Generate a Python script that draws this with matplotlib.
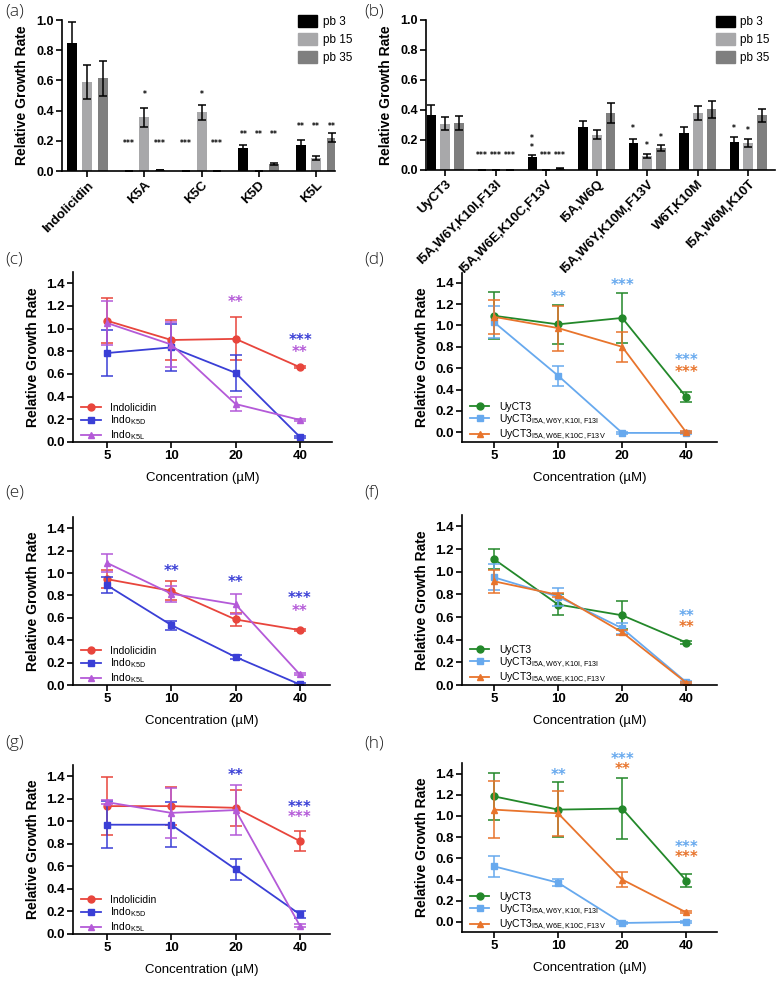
import matplotlib
matplotlib.use("Agg")
import matplotlib.pyplot as plt
from matplotlib.patches import Patch

W, H = 777, 985
plt.rcParams["font.family"] = ["Liberation Sans", "DejaVu Sans"]
plt.rcParams["mathtext.default"] = "regular"

# ---------------- bar panels (a) and (b) ----------------
passages = ["pb 3", "pb 15", "pb 35"]
bar_colors = ["#000000", "#a8a8aa", "#7f7f7f"]

a_groups = ["Indolicidin", "K5A", "K5C", "K5D", "K5L"]
a_pb3 = [0.85, 0.0, 0.0, 0.155, 0.175]
a_pb15 = [0.59, 0.355, 0.39, 0.002, 0.085]
a_pb35 = [0.615, 0.005, 0.003, 0.045, 0.22]
a_pb3_err = [0.14, 0.0, 0.0, 0.02, 0.03]
a_pb15_err = [0.115, 0.065, 0.05, 0.0, 0.015]
a_pb35_err = [0.115, 0.0, 0.0, 0.005, 0.03]
# (group index, bar index, text, y)
a_stars = [(1, 0, "***", 0.19), (1, 1, "*", 0.51), (1, 2, "***", 0.19),
           (2, 0, "***", 0.19), (2, 1, "*", 0.51), (2, 2, "***", 0.19),
           (3, 0, "**", 0.25), (3, 1, "**", 0.25), (3, 2, "**", 0.25),
           (4, 0, "**", 0.30), (4, 1, "**", 0.30), (4, 2, "**", 0.30)]

b_groups = ["UyCT3", "I5A,W6Y,K10I,F13I", "I5A,W6E,K10C,F13V", "I5A,W6Q",
            "I5A,W6Y,K10M,F13V", "W6T,K10M", "I5A,W6M,K10T"]
b_pb3 = [0.365, 0.0, 0.085, 0.29, 0.18, 0.245, 0.19]
b_pb15 = [0.31, 0.0, 0.003, 0.235, 0.095, 0.38, 0.18]
b_pb35 = [0.315, 0.0, 0.01, 0.38, 0.15, 0.405, 0.365]
b_pb3_err = [0.07, 0.0, 0.012, 0.04, 0.03, 0.045, 0.03]
b_pb15_err = [0.045, 0.0, 0.0, 0.03, 0.012, 0.045, 0.025]
b_pb35_err = [0.045, 0.0, 0.003, 0.065, 0.02, 0.055, 0.045]
b_stars = [(1, 0, "***", 0.105), (1, 1, "***", 0.105), (1, 2, "***", 0.105),
           (2, 0, "*", 0.22), (2, 0, "*", 0.155),
           (2, 1, "***", 0.105), (2, 2, "***", 0.105),
           (4, 0, "*", 0.28), (4, 1, "*", 0.17), (4, 2, "*", 0.225),
           (6, 0, "*", 0.285), (6, 1, "*", 0.27)]

# ---------------- line panels (c)-(h) ----------------
conc = ["5", "10", "20", "40"]
red, blue, purple = "#e8453c", "#3a3fd6", "#b45ad8"
green, lblue, orange = "#23882a", "#67a9ee", "#e8742c"

indo_labels = ["Indolicidin", r"Indo$_\mathregular{K5D}$", r"Indo$_\mathregular{K5L}$"]
uy_labels = ["UyCT3", r"UyCT3$_\mathregular{I5A,W6Y,K10I,F13I}$",
             r"UyCT3$_\mathregular{I5A,W6E,K10C,F13V}$"]

c_indo = [1.07, 0.90, 0.91, 0.66]
c_indo_err = [0.20, 0.175, 0.19, 0.01]
c_k5d = [0.785, 0.835, 0.61, 0.045]
c_k5d_err = [0.20, 0.21, 0.16, 0.01]
c_k5l = [1.05, 0.86, 0.335, 0.195]
c_k5l_err = [0.19, 0.20, 0.06, 0.01]
c_stars = [(2, 1.24, "**", purple), (3, 0.91, "***", blue), (3, 0.80, "**", purple)]

d_uy = [1.09, 1.01, 1.07, 0.33]
d_uy_err = [0.22, 0.18, 0.235, 0.05]
d_m1 = [1.03, 0.53, -0.005, -0.005]
d_m1_err = [0.15, 0.095, 0.01, 0.01]
d_m2 = [1.08, 0.975, 0.80, 0.0]
d_m2_err = [0.16, 0.21, 0.14, 0.01]
d_stars = [(1, 1.275, "**", lblue), (2, 1.385, "***", lblue),
           (3, 0.686, "***", lblue), (3, 0.576, "***", orange)]

e_indo = [0.945, 0.84, 0.585, 0.49]
e_indo_err = [0.08, 0.085, 0.06, 0.01]
e_k5d = [0.89, 0.535, 0.25, 0.005]
e_k5d_err = [0.07, 0.04, 0.015, 0.01]
e_k5l = [1.09, 0.815, 0.72, 0.095]
e_k5l_err = [0.08, 0.07, 0.09, 0.01]
e_stars = [(1, 1.03, "**", blue), (2, 0.926, "**", blue),
           (3, 0.79, "***", blue), (3, 0.67, "**", purple)]

f_uy = [1.11, 0.71, 0.615, 0.375]
f_uy_err = [0.09, 0.09, 0.125, 0.01]
f_m1 = [0.95, 0.78, 0.50, 0.025]
f_m1_err = [0.115, 0.08, 0.05, 0.01]
f_m2 = [0.915, 0.795, 0.465, 0.02]
f_m2_err = [0.10, 0.02, 0.02, 0.01]
f_stars = [(3, 0.62, "**", lblue), (3, 0.52, "**", orange)]

g_indo = [1.135, 1.135, 1.12, 0.825]
g_indo_err = [0.26, 0.17, 0.16, 0.085]
g_k5d = [0.97, 0.97, 0.575, 0.175]
g_k5d_err = [0.21, 0.20, 0.095, 0.03]
g_k5l = [1.17, 1.075, 1.10, 0.075]
g_k5l_err = [0.02, 0.22, 0.225, 0.01]
g_stars = [(2, 1.42, "**", blue), (3, 1.14, "***", blue), (3, 1.045, "***", purple)]

h_uy = [1.185, 1.06, 1.07, 0.39]
h_uy_err = [0.22, 0.26, 0.29, 0.065]
h_m1 = [0.525, 0.37, -0.01, 0.0]
h_m1_err = [0.10, 0.035, 0.01, 0.01]
h_m2 = [1.06, 1.025, 0.40, 0.09]
h_m2_err = [0.27, 0.215, 0.07, 0.01]
h_stars = [(1, 1.40, "**", lblue), (2, 1.55, "***", lblue), (2, 1.45, "**", orange),
           (3, 0.714, "***", lblue), (3, 0.62, "***", orange)]


def rect(l, t, r, b):
    return [l / W, 1 - b / H, (r - l) / W, (b - t) / H]


def star_text(s):
    # mathtext gives a box tight to the glyphs, so stacked stars do not collide
    return r"$\mathbf{" + "".join("{*}" for _ in s) + "}$"


def style_axes(ax, labelsize):
    for s in ("top", "right"):
        ax.spines[s].set_visible(False)
    for s in ("left", "bottom"):
        ax.spines[s].set_linewidth(1.2)
    ax.tick_params(width=1.2, length=4, labelsize=labelsize, pad=2)
    for lbl in ax.get_xticklabels() + ax.get_yticklabels():
        lbl.set_fontweight("bold")


def bar_panel(fig, r, groups, means, errs, stars, xlim, width, step, leg_x):
    ax = fig.add_axes(rect(*r))
    xs = list(range(len(groups)))
    for k, (m, e) in enumerate(zip(means, errs)):
        pos = [x + (k - 1) * step for x in xs]
        ax.bar(pos, m, width=width, color=bar_colors[k], label=passages[k])
        ax.errorbar(pos, m, yerr=e, fmt="none", ecolor="black",
                    elinewidth=1.1, capsize=3, capthick=1.1)
    for g, k, s, y in stars:
        ax.text(g + (k - 1) * step, y, star_text(s), ha="center", va="center",
                fontsize=5.5)
    ax.set_xlim(*xlim)
    ax.set_ylim(0, 1.0)
    ax.set_yticks([0, 0.2, 0.4, 0.6, 0.8, 1.0],
                  ["0.0", "0.2", "0.4", "0.6", "0.8", "1.0"])
    ax.set_xticks(xs, groups, rotation=45, ha="right", rotation_mode="anchor")
    style_axes(ax, 9)
    for lbl in ax.get_xticklabels():
        lbl.set_fontsize(9.5)
    ax.set_ylabel("Relative Growth Rate", fontsize=10, fontweight="bold", labelpad=5)
    handles = [Patch(color=c) for c in bar_colors]
    ax.legend(handles, passages, loc="upper left", bbox_to_anchor=(leg_x, 1.03),
              frameon=False, fontsize=8.5, handlelength=1.6, handleheight=1.1,
              handletextpad=0.5, labelspacing=0.45, borderaxespad=0, borderpad=0)
    return ax


def line_panel(fig, r, series, labels, colors, stars, ylim, xlim):
    ax = fig.add_axes(rect(*r))
    xs = list(range(len(conc)))
    markers = ["o", "s", "^"]
    for (m, e), lab, c, mk in zip(series, labels, colors, markers):
        ax.errorbar(xs, m, yerr=e, fmt="none", ecolor=c, elinewidth=1.1,
                    capsize=4, capthick=1.1)
        ax.plot(xs, m, color=c, marker=mk, ms=5, lw=1.3, label=lab)
    for x, y, s, c in stars:
        ax.text(x, y, star_text(s), ha="center", va="center", fontsize=10.5,
                color=c, clip_on=False)
    ax.set_xlim(*xlim)
    ax.set_ylim(*ylim)
    ax.set_yticks([0, 0.2, 0.4, 0.6, 0.8, 1.0, 1.2, 1.4],
                  ["0.0", "0.2", "0.4", "0.6", "0.8", "1.0", "1.2", "1.4"])
    ax.set_xticks(xs, conc)
    style_axes(ax, 9.5)
    ax.set_ylabel("Relative Growth Rate", fontsize=10, fontweight="bold", labelpad=4)
    ax.set_xlabel("Concentration (\u00b5M)", fontsize=9.5, labelpad=7)
    ax.legend(loc="lower left", bbox_to_anchor=(0.03, 0.0), frameon=False,
              fontsize=7.5, handlelength=1.9, handletextpad=0.9, labelspacing=0.08,
              borderaxespad=0, borderpad=0)
    return ax


fig = plt.figure(figsize=(W / 100, H / 100), dpi=100)

bar_panel(fig, (62, 20, 335, 171), a_groups, [a_pb3, a_pb15, a_pb35],
          [a_pb3_err, a_pb15_err, a_pb35_err], a_stars, (-0.44, 4.33), 0.175, 0.27, 0.865)
bar_panel(fig, (426, 20, 775, 170), b_groups, [b_pb3, b_pb15, b_pb35],
          [b_pb3_err, b_pb15_err, b_pb35_err], b_stars, (-0.38, 6.53), 0.19, 0.275, 0.83)

indo_colors = [red, blue, purple]
uy_colors = [green, lblue, orange]
line_panel(fig, (73, 272, 332, 442), [(c_indo, c_indo_err), (c_k5d, c_k5d_err), (c_k5l, c_k5l_err)],
           indo_labels, indo_colors, c_stars, (0, 1.5), (-0.53, 3.5))
line_panel(fig, (462, 273, 717, 442), [(d_uy, d_uy_err), (d_m1, d_m1_err), (d_m2, d_m2_err)],
           uy_labels, uy_colors, d_stars, (-0.09, 1.49), (-0.5, 3.48))
line_panel(fig, (73, 517, 330, 685), [(e_indo, e_indo_err), (e_k5d, e_k5d_err), (e_k5l, e_k5l_err)],
           indo_labels, indo_colors, e_stars, (0, 1.5), (-0.53, 3.47))
line_panel(fig, (462, 515, 717, 685), [(f_uy, f_uy_err), (f_m1, f_m1_err), (f_m2, f_m2_err)],
           uy_labels, uy_colors, f_stars, (0, 1.5), (-0.5, 3.48))
line_panel(fig, (73, 765, 330, 934), [(g_indo, g_indo_err), (g_k5d, g_k5d_err), (g_k5l, g_k5l_err)],
           indo_labels, indo_colors, g_stars, (0, 1.5), (-0.53, 3.47))
line_panel(fig, (462, 763, 717, 932), [(h_uy, h_uy_err), (h_m1, h_m1_err), (h_m2, h_m2_err)],
           uy_labels, uy_colors, h_stars, (-0.095, 1.5), (-0.5, 3.48))

letters = [("(a)", 5, 12), ("(b)", 364, 12), ("(c)", 5, 259), ("(d)", 364, 259),
           ("(e)", 5, 492), ("(f)", 364, 492), ("(g)", 5, 743), ("(h)", 364, 743)]
for t, x, y in letters:
    fig.text(x / W, 1 - y / H, t, ha="left", va="center", fontsize=12.5,
             family=["Open Sans", "DejaVu Sans"], fontweight="light", color="#222222")

fig.savefig("out.png", dpi=100)
